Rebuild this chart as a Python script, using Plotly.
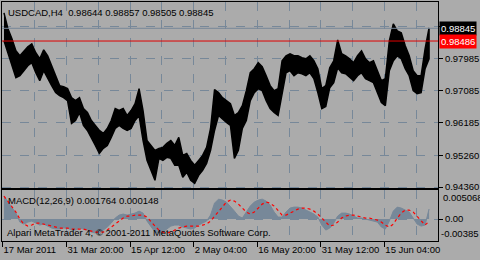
import plotly.graph_objects as go

# ---- data (one value per 4 H4 bars) ----
high = [0.99279, 0.98829, 0.98548, 0.98210, 0.98069, 0.98210, 0.98323, 0.98407, 0.98154, 0.97985,
        0.98238, 0.98069, 0.97788, 0.97507, 0.97226, 0.97198, 0.97141, 0.96888, 0.96804, 0.96888,
        0.96579, 0.96466, 0.96241, 0.96101, 0.95960, 0.95876, 0.96016, 0.96241, 0.96579, 0.96523,
        0.96579, 0.96382, 0.96523, 0.96719, 0.97141, 0.96523, 0.95679, 0.95538, 0.95398, 0.95454,
        0.95482, 0.95594, 0.95679, 0.95538, 0.95763, 0.95257, 0.95313, 0.95116, 0.94976, 0.95116,
        0.95257, 0.95482, 0.96016, 0.97113, 0.97029, 0.96888, 0.96804, 0.96719, 0.96382, 0.96466,
        0.96663, 0.97085, 0.97591, 0.97704, 0.97873, 0.97760, 0.97507, 0.97226, 0.97085, 0.97141,
        0.97929, 0.98069, 0.98126, 0.98069, 0.98069, 0.98013, 0.97985, 0.98069, 0.97929, 0.97704,
        0.97141, 0.97226, 0.97732, 0.97929, 0.98519, 0.98126, 0.98069, 0.97985, 0.97873, 0.98069,
        0.98210, 0.97985, 0.97873, 0.97929, 0.97648, 0.97366, 0.97423, 0.98491, 0.98969, 0.98773,
        0.98716, 0.98351, 0.98069, 0.97648, 0.97507, 0.97507, 0.98266, 0.98857]
low = [0.98491, 0.98154, 0.97788, 0.97451, 0.97507, 0.97648, 0.97788, 0.97873, 0.97591, 0.97366,
       0.97648, 0.97423, 0.97226, 0.97029, 0.96944, 0.96888, 0.96804, 0.96157, 0.96241, 0.96466,
       0.96101, 0.95960, 0.95735, 0.95538, 0.95313, 0.95454, 0.95538, 0.95763, 0.96016, 0.96101,
       0.96016, 0.95960, 0.96016, 0.96241, 0.96382, 0.95679, 0.95116, 0.94835, 0.94554, 0.95173,
       0.95116, 0.95201, 0.95173, 0.94976, 0.94976, 0.94638, 0.94779, 0.94554, 0.94469, 0.94694,
       0.94835, 0.95032, 0.95398, 0.95960, 0.96382, 0.96298, 0.96185, 0.96101, 0.95173, 0.95398,
       0.96016, 0.96241, 0.96804, 0.97029, 0.97141, 0.97085, 0.96804, 0.96579, 0.96466, 0.96382,
       0.97029, 0.97591, 0.97648, 0.97507, 0.97591, 0.97563, 0.97507, 0.97591, 0.97423, 0.97029,
       0.96579, 0.96635, 0.97169, 0.97310, 0.97732, 0.97591, 0.97563, 0.97479, 0.97366, 0.97507,
       0.97591, 0.97423, 0.97366, 0.97310, 0.97029, 0.96748, 0.96663, 0.97648, 0.97929, 0.98069,
       0.97985, 0.97704, 0.97507, 0.97085, 0.97001, 0.97029, 0.97704, 0.97985]
macd_main = [0.00403, 0.00298, 0.0021, 0.00105, -0.00053, -0.00088, -0.00053, -0.00035, -0.0007, -0.00105,
             -0.00088, -0.00123, -0.00158, -0.00175, -0.00175, -0.00158, -0.00158, -0.00193, -0.00193, -0.00158,
             -0.00175, -0.00193, -0.00228, -0.00245, -0.00245, -0.00193, -0.0014, -0.0007, 0.00018, 0.0007,
             0.00088, 0.0007, 0.00088, 0.00105, 0.0014, 0.00105, -0.00035, -0.0014, -0.00228, -0.00245,
             -0.00228, -0.00175, -0.00123, -0.00105, -0.00105, -0.0014, -0.00158, -0.00175, -0.00158, -0.00105,
             -0.0007, -0.00035, 0.0007, 0.0028, 0.0035, 0.00333, 0.00298, 0.00228, 0.0014, 0.00053,
             0.00018, 0.00123, 0.00228, 0.00298, 0.00333, 0.0035, 0.00315, 0.00245, 0.00123, 0.00035,
             0.00035, 0.00123, 0.00193, 0.0021, 0.0021, 0.00193, 0.00158, 0.00123, 0.00088, 0.00035,
             -0.00105, -0.00193, -0.00158, -0.0007, 0.00053, 0.00105, 0.00105, 0.00088, 0.00053, 0.00018,
             0.00018, 0.0, -0.00018, -0.00035, -0.00053, -0.0014, -0.00175, -0.00035, 0.0014, 0.0021,
             0.00193, 0.00158, 0.00123, 0.00018, -0.00088, -0.00123, -0.00105, 0.00176]
macd_signal = [0.00403, 0.00315, 0.00228, 0.00123, 0.0, -0.00088, -0.00123, -0.00105, -0.0007, -0.0007,
               -0.00088, -0.00105, -0.00123, -0.0014, -0.00158, -0.00158, -0.00158, -0.00175, -0.00175, -0.00175,
               -0.00175, -0.00193, -0.0021, -0.00228, -0.00228, -0.00228, -0.00193, -0.0014, -0.00088, -0.00035,
               0.00018, 0.00053, 0.00053, 0.0007, 0.0007, 0.0007, 0.00035, -0.00053, -0.00123, -0.00193,
               -0.00228, -0.00245, -0.00228, -0.00193, -0.00158, -0.0014, -0.00123, -0.00123, -0.00123, -0.00123,
               -0.00105, -0.00088, -0.00035, 0.00053, 0.0014, 0.00228, 0.00298, 0.00333, 0.00315, 0.00263,
               0.00193, 0.00123, 0.00088, 0.00123, 0.00193, 0.00263, 0.00298, 0.0028, 0.00228, 0.0014,
               0.0007, 0.0007, 0.00105, 0.0014, 0.00175, 0.00193, 0.00193, 0.00175, 0.0014, 0.00088,
               0.00018, -0.0007, -0.00123, -0.00105, -0.00053, 0.00018, 0.00053, 0.0007, 0.0007, 0.00053,
               0.00035, 0.00018, 0.00018, 0.0, -0.00018, -0.00053, -0.00105, -0.0014, -0.00088, 0.00018,
               0.00105, 0.00158, 0.00158, 0.00123, 0.00053, -0.00035, -0.00105, -0.0004]

time_tick_bars = [0, 64.5, 128.5, 192.5, 256.5, 320.5, 384.5]
time_tick_labels = ["17 Mar 2011", "31 Mar 20:00", "15 Apr 12:00", "2 May 04:00",
                    "16 May 20:00", "31 May 12:00", "15 Jun 04:00"]
minor_grid_bars = [32.5, 96.5, 160.5, 224.5, 288.5, 352.5, 416.5]
price_ticks = [0.94360, 0.95260, 0.96185, 0.97085, 0.97985, 0.98885]
price_tick_labels = ["0.94360", "0.95260", "0.96185", "0.97085", "0.97985", ""]
bid_price = 0.98845
line_price = 0.98486
macd_top = 0.005068
macd_bottom = -0.00385
title_text = "USDCAD,H4\u00a0\u00a00.98644 0.98857 0.98505 0.98845"
macd_text = "MACD(12,26,9) 0.001764 0.000148"
copyright_text = "Alpari MetaTrader 4, © 2001-2011 MetaQuotes Software Corp."

# ---- styling ----
BG = "#ABABAB"
GRID = "#778899"
FONT = "Liberation Sans"
FS = 9.5
bars_per_bin = 4
bin_x = [bars_per_bin * k + (bars_per_bin - 1) / 2 for k in range(len(high))]

fig = go.Figure()
# price band: highs left-to-right, lows right-to-left, filled
fig.add_trace(go.Scatter(x=bin_x + bin_x[::-1], y=high + low[::-1], mode="lines",
                         fill="toself", fillcolor="black",
                         line=dict(color="black", width=1.5),
                         xaxis="x", yaxis="y", hoverinfo="skip"))
fig.add_trace(go.Scatter(x=[-0.5, 438.5], y=[bid_price, bid_price], mode="lines",
                         line=dict(color=GRID, width=1), xaxis="x", yaxis="y", hoverinfo="skip"))
fig.add_trace(go.Scatter(x=[-0.5, 438.5], y=[line_price, line_price], mode="lines",
                         line=dict(color="#E00000", width=1), xaxis="x", yaxis="y", hoverinfo="skip"))
fig.add_trace(go.Scatter(x=bin_x, y=macd_main, mode="lines", fill="tozeroy",
                         fillcolor=GRID, line=dict(color=GRID, width=1),
                         xaxis="x2", yaxis="y2", hoverinfo="skip"))
fig.add_trace(go.Scatter(x=bin_x, y=macd_signal, mode="lines",
                         line=dict(color="red", width=1.2, dash="3px,3px"),
                         xaxis="x2", yaxis="y2", hoverinfo="skip"))

xcommon = dict(range=[-0.5, 438.5], showline=True, mirror=True, linecolor="black", linewidth=1,
               showgrid=True, gridcolor=GRID, griddash="dash", gridwidth=1, zeroline=False,
               tickangle=0,
               minor=dict(tickvals=minor_grid_bars, showgrid=True, gridcolor=GRID,
                          griddash="dash", gridwidth=1, ticks=""))
fig.update_layout(
    width=480, height=260, margin=dict(l=2, r=39, t=1, b=19),
    paper_bgcolor=BG, plot_bgcolor=BG, showlegend=False,
    font=dict(family=FONT, size=FS, color="black"),
    xaxis=dict(xcommon, anchor="y", tickvals=time_tick_bars, showticklabels=False, ticks=""),
    xaxis2=dict(xcommon, anchor="y2", tickvals=time_tick_bars, ticktext=time_tick_labels,
                ticks="outside", ticklen=5, tickcolor="black",
                ticklabelposition="outside right", automargin=False,
                tickfont=dict(family=FONT, size=FS, color="black")),
    yaxis=dict(domain=[0.2208, 1.0], range=[0.9432875, 0.995881], side="right",
               tickvals=price_ticks, ticktext=price_tick_labels, ticks="outside", ticklen=4,
               tickcolor="black", showline=True, mirror=True, linecolor="black",
               showgrid=True, gridcolor=GRID, griddash="dash", zeroline=False,
               tickfont=dict(family=FONT, size=FS, color="black")),
    yaxis2=dict(domain=[0, 0.2125], range=[macd_bottom, macd_top], side="right",
                tickvals=[0], ticktext=["0.00"], ticks="outside", ticklen=4, tickcolor="black",
                showline=True, mirror=True, linecolor="black",
                showgrid=True, gridcolor=GRID, griddash="dash", zeroline=False,
                tickfont=dict(family=FONT, size=FS, color="black")),
)

ann = []
ann.append(dict(text=title_text, xref="paper", yref="paper", x=0, y=1, xanchor="left",
                yanchor="top", xshift=4, yshift=-3, showarrow=False))
ann.append(dict(text=macd_text, xref="paper", yref="y2", x=0, y=macd_top, xanchor="left",
                yanchor="top", xshift=4, yshift=-3, showarrow=False))
ann.append(dict(text=copyright_text, xref="paper", yref="y2", x=0, y=macd_bottom, xanchor="left",
                yanchor="bottom", xshift=3, yshift=1, showarrow=False))
ann.append(dict(text=f"{macd_top:.6f}", xref="paper", yref="y2", x=1, y=macd_top, xanchor="left",
                yanchor="top", xshift=3, showarrow=False))
ann.append(dict(text=f"{macd_bottom:.5f}", xref="paper", yref="y2", x=1, y=macd_bottom, xanchor="left",
                yanchor="bottom", xshift=1, showarrow=False))
ann.append(dict(text=f"{bid_price:.5f}", xref="paper", yref="y", x=1, y=bid_price, xanchor="left",
                yanchor="middle", xshift=1, showarrow=False, bgcolor="black",
                font=dict(color="white", family=FONT, size=FS), borderpad=1))
ann.append(dict(text=f"{line_price:.5f}", xref="paper", yref="y", x=1, y=line_price, xanchor="left",
                yanchor="middle", xshift=1, showarrow=False, bgcolor="#FF0000",
                font=dict(color="white", family=FONT, size=FS), borderpad=1))
fig.update_layout(annotations=ann)

fig.write_html("out.html")
